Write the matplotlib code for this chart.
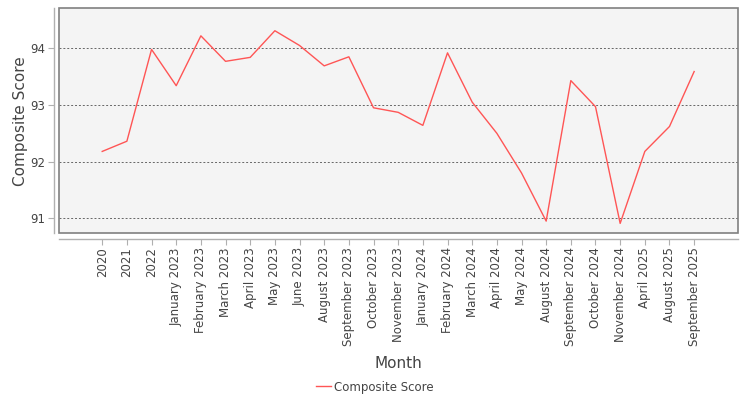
import matplotlib
matplotlib.use("Agg")
import matplotlib.pyplot as plt
from matplotlib.lines import Line2D
from matplotlib.patches import Rectangle

months = ["2020", "2021", "2022", "January 2023", "February 2023", "March 2023",
          "April 2023", "May 2023", "June 2023", "August 2023", "September 2023",
          "October 2023", "November 2023", "January 2024", "February 2024",
          "March 2024", "April 2024", "May 2024", "August 2024", "September 2024",
          "October 2024", "November 2024", "April 2025", "August 2025",
          "September 2025"]
scores = [92.18, 92.36, 93.98, 93.34, 94.22, 93.77, 93.84, 94.31, 94.05, 93.69,
          93.85, 92.95, 92.87, 92.64, 93.92, 93.05, 92.50, 91.80, 90.95, 93.43,
          92.97, 90.91, 92.18, 92.62, 93.59]
yticks = [91, 92, 93, 94]
series_name = "Composite Score"

plt.rcParams['font.family'] = ['DejaVu Sans']
fig = plt.figure(figsize=(7.5, 4), dpi=100)
ax = fig.add_axes([59.3/750, 1-233.3/400, (738.3-59.3)/750, (233.3-8.3)/400])
ax.set_facecolor('#f4f4f4')

x = list(range(len(months)))
ax.plot(x, scores, color='#ff5555', lw=1.0)

ax.set_xlim(-1.74, 25.79)
ax.set_ylim(90.735, 94.706)
ax.set_yticks(yticks)
ax.set_yticklabels([str(t) for t in yticks])
ax.set_xticks(x)
ax.set_xticklabels(months)
ax.grid(axis='y', color='#666666', linestyle=(0, (2, 2)), lw=0.7)
ax.set_axisbelow(True)

for s in ['top', 'right']:
    ax.spines[s].set_visible(False)
ax.spines['left'].set_position(('outward', 4))
ax.spines['bottom'].set_position(('outward', 4))
for s in ['left', 'bottom']:
    ax.spines[s].set_color('#b0b0b0')
    ax.spines[s].set_linewidth(1)
ax.add_patch(Rectangle((0, 0), 1, 1, transform=ax.transAxes, fill=False,
                       edgecolor='#808080', lw=1.2, clip_on=False, zorder=5))

ax.tick_params(axis='both', colors='#b0b0b0', labelcolor='#444444',
               labelsize=8.5, length=4, width=0.8)
ax.tick_params(axis='x', pad=2, labelrotation=90)
ax.tick_params(axis='y', pad=2)

ax.set_xlabel("Month", fontsize=11, color='#444444', labelpad=7)
ax.set_ylabel("Composite Score", fontsize=11, color='#444444', labelpad=2)

handle = Line2D([], [], color='#ff5555', lw=1.0)
fig.legend([handle], [series_name], loc='center', bbox_to_anchor=(0.5, 1-387/400),
           frameon=False, fontsize=8.5, handlelength=1.2, handletextpad=0.3,
           labelcolor='#444444')

fig.savefig("out.png", dpi=100)
